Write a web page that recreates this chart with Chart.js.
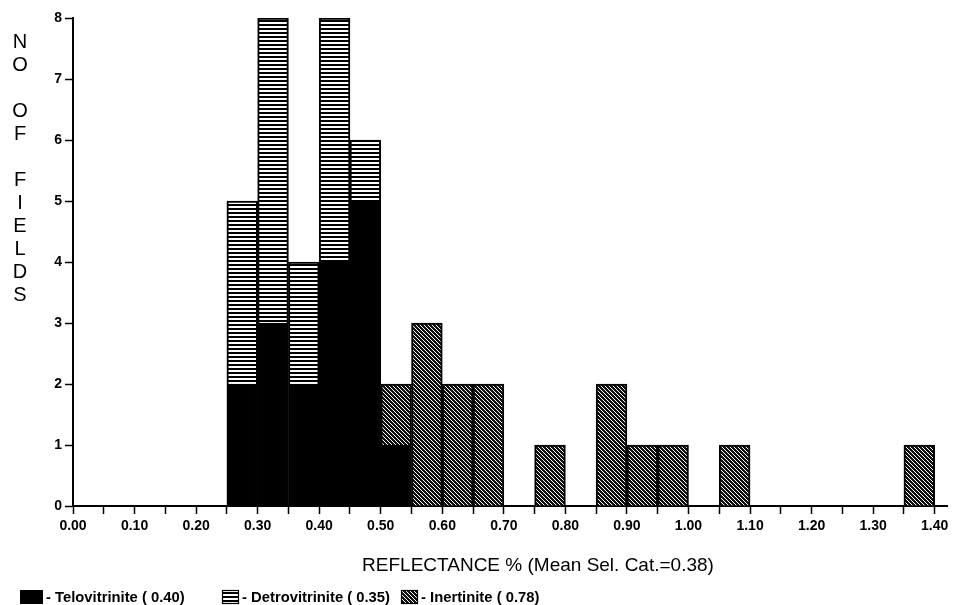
<!DOCTYPE html>
<html><head><meta charset="utf-8">
<script src="https://cdn.jsdelivr.net/npm/chart.js@4/dist/chart.umd.min.js"></script>
<style>html,body{margin:0;padding:0;background:#fff;}</style>
</head><body>
<canvas id="c" width="953" height="605"></canvas>
<script>
// ---- data ----
const binWidth = 0.05;
const binLeft = [0.25, 0.30, 0.35, 0.40, 0.45, 0.50, 0.55, 0.60, 0.65, 0.70, 0.75, 0.80,
                 0.85, 0.90, 0.95, 1.00, 1.05, 1.10, 1.15, 1.20, 1.25, 1.30, 1.35];
const telovitrinite  = [2, 3, 2, 4, 5, 1, 0, 0, 0, 0, 0, 0, 0, 0, 0, 0, 0, 0, 0, 0, 0, 0, 0];
const detrovitrinite = [3, 5, 2, 4, 1, 0, 0, 0, 0, 0, 0, 0, 0, 0, 0, 0, 0, 0, 0, 0, 0, 0, 0];
const inertinite     = [0, 0, 0, 0, 0, 1, 3, 2, 2, 0, 1, 0, 2, 1, 1, 0, 1, 0, 0, 0, 0, 0, 1];
const seriesNames = ['Telovitrinite', 'Detrovitrinite', 'Inertinite'];
const seriesMeans = ['0.40', '0.35', '0.78'];
const yTicks = [0, 1, 2, 3, 4, 5, 6, 7, 8];
const xTitle = 'REFLECTANCE % (Mean Sel. Cat.=0.38)';
const yTitle = ['N', 'O', '', 'O', 'F', '', 'F', 'I', 'E', 'L', 'D', 'S'];

// ---- patterns ----
const canvas = document.getElementById('c');
const ctx = canvas.getContext('2d');
function stripePattern() {
  const t = document.createElement('canvas'); t.width = 4; t.height = 4;
  const g = t.getContext('2d');
  g.fillStyle = '#fff'; g.fillRect(0, 0, 4, 4);
  g.fillStyle = '#000'; g.fillRect(0, 0, 4, 2);
  return ctx.createPattern(t, 'repeat');
}
function hatchPattern() {
  const n = 4;
  const t = document.createElement('canvas'); t.width = n; t.height = n;
  const g = t.getContext('2d');
  g.fillStyle = '#fff'; g.fillRect(0, 0, n, n);
  g.fillStyle = '#111';
  for (let x = 0; x < n; x++) for (let y = 0; y < n; y++) {
    if (((x - y) % n + n) % n < 3) g.fillRect(x, y, 1, 1);
  }
  return ctx.createPattern(t, 'repeat');
}
const fills = ['#000', stripePattern(), hatchPattern()];

function toPoints(arr) {
  return arr.map((v, i) => ({ x: binLeft[i] + binWidth / 2, y: v === 0 ? null : v }));
}
const seriesData = [telovitrinite, detrovitrinite, inertinite];

const decorPlugin = {
  id: 'decor',
  beforeDraw(chart) {
    const c = chart.ctx;
    c.save(); c.fillStyle = '#fff'; c.fillRect(0, 0, chart.width, chart.height); c.restore();
  },
  afterDraw(chart) {
    const c = chart.ctx;
    c.save();
    c.fillStyle = '#000';
    // x title
    c.font = '19px "Liberation Sans", Arial, sans-serif';
    c.textAlign = 'center'; c.textBaseline = 'middle';
    c.fillText(xTitle, 538, 566);
    // y title (stacked letters)
    c.font = '20px "Liberation Sans", Arial, sans-serif';
    yTitle.forEach((ch, i) => { if (ch) c.fillText(ch, 20, 42 + i * 23); });
    // legend
    const boxes = [[20, 23], [222, 17], [401, 17]];
    c.font = 'bold 14.8px "Liberation Sans", Arial, sans-serif';
    c.textAlign = 'left';
    seriesNames.forEach((name, i) => {
      const [bx, bw] = boxes[i];
      c.fillStyle = fills[i];
      c.fillRect(bx, 590, bw, 14);
      if (i > 0) { c.strokeStyle = '#000'; c.lineWidth = 1.2; c.strokeRect(bx + 0.5, 590.5, bw - 1, 13); }
      c.fillStyle = '#000';
      c.fillText('- ' + name + ' ( ' + seriesMeans[i] + ')', bx + bw + 3, 598);
    });
    c.restore();
  }
};

new Chart(ctx, {
  type: 'bar',
  data: {
    datasets: seriesNames.map((name, i) => ({
      label: name,
      data: toPoints(seriesData[i]),
      backgroundColor: fills[i],
      borderColor: '#000',
      borderWidth: 2,
      borderSkipped: 'start',
      barPercentage: 1,
      categoryPercentage: 1
    }))
  },
  options: {
    responsive: false,
    animation: false,
    devicePixelRatio: 1,
    layout: { padding: { top: 18, right: 6, left: 0, bottom: 0 } },
    plugins: { legend: { display: false }, tooltip: { enabled: false } },
    scales: {
      x: {
        type: 'linear', min: 0, max: 1.42, offset: false, stacked: true,
        afterFit(s) { s.height = 99; },
        afterBuildTicks(s) { s.ticks = s.ticks.filter(t => t.value <= 1.4001); },
        grid: { offset: false, drawOnChartArea: false, drawTicks: true, tickLength: 8, tickWidth: 1.5, tickColor: '#000' },
        border: { display: true, color: '#000', width: 2 },
        ticks: {
          stepSize: 0.05, autoSkip: false, maxRotation: 0, includeBounds: false, padding: 4,
          color: '#000', font: { family: '"Liberation Sans", Arial, sans-serif', size: 14, weight: 'bold' },
          callback(v) { const k = Math.round(v * 100); return k % 10 === 0 ? (k / 100).toFixed(2) : ''; }
        }
      },
      y: {
        min: 0, max: 8, stacked: true,
        afterFit(s) { s.width = 73; },
        afterBuildTicks(s) { s.ticks = yTicks.map(v => ({ value: v })); },
        grid: { drawOnChartArea: false, drawTicks: true, tickLength: 8, tickWidth: 1.5, tickColor: '#000' },
        border: { display: true, color: '#000', width: 2 },
        ticks: {
          stepSize: 1, padding: 3, color: '#000',
          font: { family: '"Liberation Sans", Arial, sans-serif', size: 14, weight: 'bold' }
        }
      }
    }
  },
  plugins: [decorPlugin]
});
</script>
</body></html>
